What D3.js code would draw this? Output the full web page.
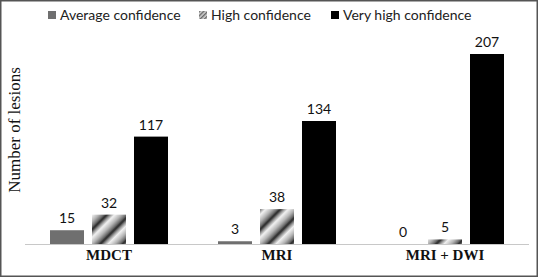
<!DOCTYPE html>
<html>
<head>
<meta charset="utf-8">
<script src="https://cdn.jsdelivr.net/npm/d3@7"></script>
<style>
  body { margin: 0; background: #fff; }
  svg { display: block; }
</style>
</head>
<body>
<div id="chart"></div>
<script>
const categories = ["MDCT", "MRI", "MRI + DWI"];
const seriesNames = ["Average confidence", "High confidence", "Very high confidence"];
const averageValues = [15, 3, 0];
const highValues = [32, 38, 5];
const veryHighValues = [117, 134, 207];

const width = 538, height = 277;
const chartSVG = d3.select("#chart").append("svg")
    .attr("width", width)
    .attr("height", height);

const defs = chartSVG.append("defs");

// diagonal gradient stripes for the "high" series
const stripeGrad = defs.append("linearGradient")
    .attr("id", "stripe-grad")
    .attr("x1", "0%").attr("x2", "100%")
    .attr("y1", "0%").attr("y2", "0%");
[["0%", "#202020"], ["15%", "#8a8a8a"], ["35%", "#f2f2f2"], ["65%", "#b4b4b4"], ["88%", "#6a6a6a"], ["100%", "#202020"]]
    .forEach(s => stripeGrad.append("stop").attr("offset", s[0]).attr("stop-color", s[1]));

defs.append("pattern")
    .attr("id", "stripes")
    .attr("patternUnits", "userSpaceOnUse")
    .attr("width", 16).attr("height", 16)
    .attr("patternTransform", "rotate(45)")
    .append("rect")
    .attr("width", 16).attr("height", 16)
    .attr("fill", "url(#stripe-grad)");

defs.append("pattern")
    .attr("id", "hatch-small")
    .attr("patternUnits", "userSpaceOnUse")
    .attr("width", 3).attr("height", 3)
    .attr("patternTransform", "rotate(45)")
    .call(p => {
        p.append("rect").attr("width", 3).attr("height", 3).attr("fill", "#d8d8d8");
        p.append("rect").attr("width", 1.5).attr("height", 3).attr("fill", "#6a6a6a");
    });

const fills = ["#6f6f6f", "url(#stripes)", "#000000"];
const legendFills = ["#6f6f6f", "url(#hatch-small)", "#000000"];

const rows = categories.map((c, i) => ({
    category: c,
    values: [averageValues[i], highValues[i], veryHighValues[i]]
}));

const baseY = 244;
const x0 = d3.scaleBand()
    .domain(categories)
    .range([50, 504])
    .paddingInner(50 / 168)
    .paddingOuter(0);
const x1 = d3.scaleBand()
    .domain(d3.range(3))
    .range([0, x0.bandwidth()])
    .paddingInner(8 / 42)
    .paddingOuter(0);
const y = d3.scaleLinear()
    .domain([0, 207])
    .range([baseY, 54]);

// outer frame
chartSVG.append("rect")
    .attr("x", 0.75).attr("y", 0.75)
    .attr("width", width - 1.5).attr("height", height - 1.5)
    .attr("fill", "none")
    .attr("stroke", "#555")
    .attr("stroke-width", 1.5);

// bars
const groups = chartSVG.selectAll("g.group")
    .data(rows)
    .enter().append("g")
    .attr("class", "group")
    .attr("transform", d => `translate(${x0(d.category)},0)`);

groups.selectAll("rect")
    .data(d => d.values.map((v, i) => ({ v, i })))
    .enter().append("rect")
    .attr("x", d => x1(d.i))
    .attr("width", x1.bandwidth())
    .attr("y", d => y(d.v))
    .attr("height", d => baseY - y(d.v))
    .attr("fill", d => fills[d.i]);

groups.selectAll("text.value")
    .data(d => d.values.map((v, i) => ({ v, i })))
    .enter().append("text")
    .attr("class", "value")
    .attr("x", d => x1(d.i) + x1.bandwidth() / 2)
    .attr("y", d => y(d.v) - 7)
    .attr("text-anchor", "middle")
    .style("font-family", "Lato, 'Open Sans', sans-serif")
    .style("font-size", "14px")
    .attr("fill", "#111")
    .text(d => d.v);

// baseline
chartSVG.append("line")
    .attr("x1", 25).attr("x2", 529)
    .attr("y1", baseY + 0.5).attr("y2", baseY + 0.5)
    .attr("stroke", "#c8c8c8")
    .attr("stroke-width", 1);

// category labels
const xAxis = d3.axisBottom(x0).tickSize(0).tickPadding(0);
const xAxisG = chartSVG.append("g")
    .attr("transform", `translate(0,${baseY})`)
    .call(xAxis);
xAxisG.select(".domain").remove();
xAxisG.selectAll("text")
    .attr("y", 16)
    .attr("dy", 0)
    .attr("fill", "#111")
    .style("font-family", "'Liberation Serif', 'Times New Roman', serif")
    .style("font-size", "15px")
    .style("font-weight", "bold");

// y axis title
chartSVG.append("text")
    .attr("transform", "translate(20,130) rotate(-90)")
    .attr("text-anchor", "middle")
    .style("font-family", "'Liberation Serif', 'Times New Roman', serif")
    .style("font-size", "17px")
    .attr("fill", "#111")
    .text("Number of lesions");

// legend
const legendX = [48, 199, 331];
const legend = chartSVG.selectAll("g.legend")
    .data(seriesNames)
    .enter().append("g")
    .attr("class", "legend")
    .attr("transform", (d, i) => `translate(${legendX[i]},15)`);
legend.append("rect")
    .attr("x", 0).attr("y", -4)
    .attr("width", 8).attr("height", 8)
    .attr("fill", (d, i) => legendFills[i]);
legend.append("text")
    .attr("x", 12).attr("y", 5)
    .style("font-family", "Lato, 'Open Sans', sans-serif")
    .style("font-size", "14px")
    .attr("fill", "#222")
    .text(d => d);
</script>
</body>
</html>
